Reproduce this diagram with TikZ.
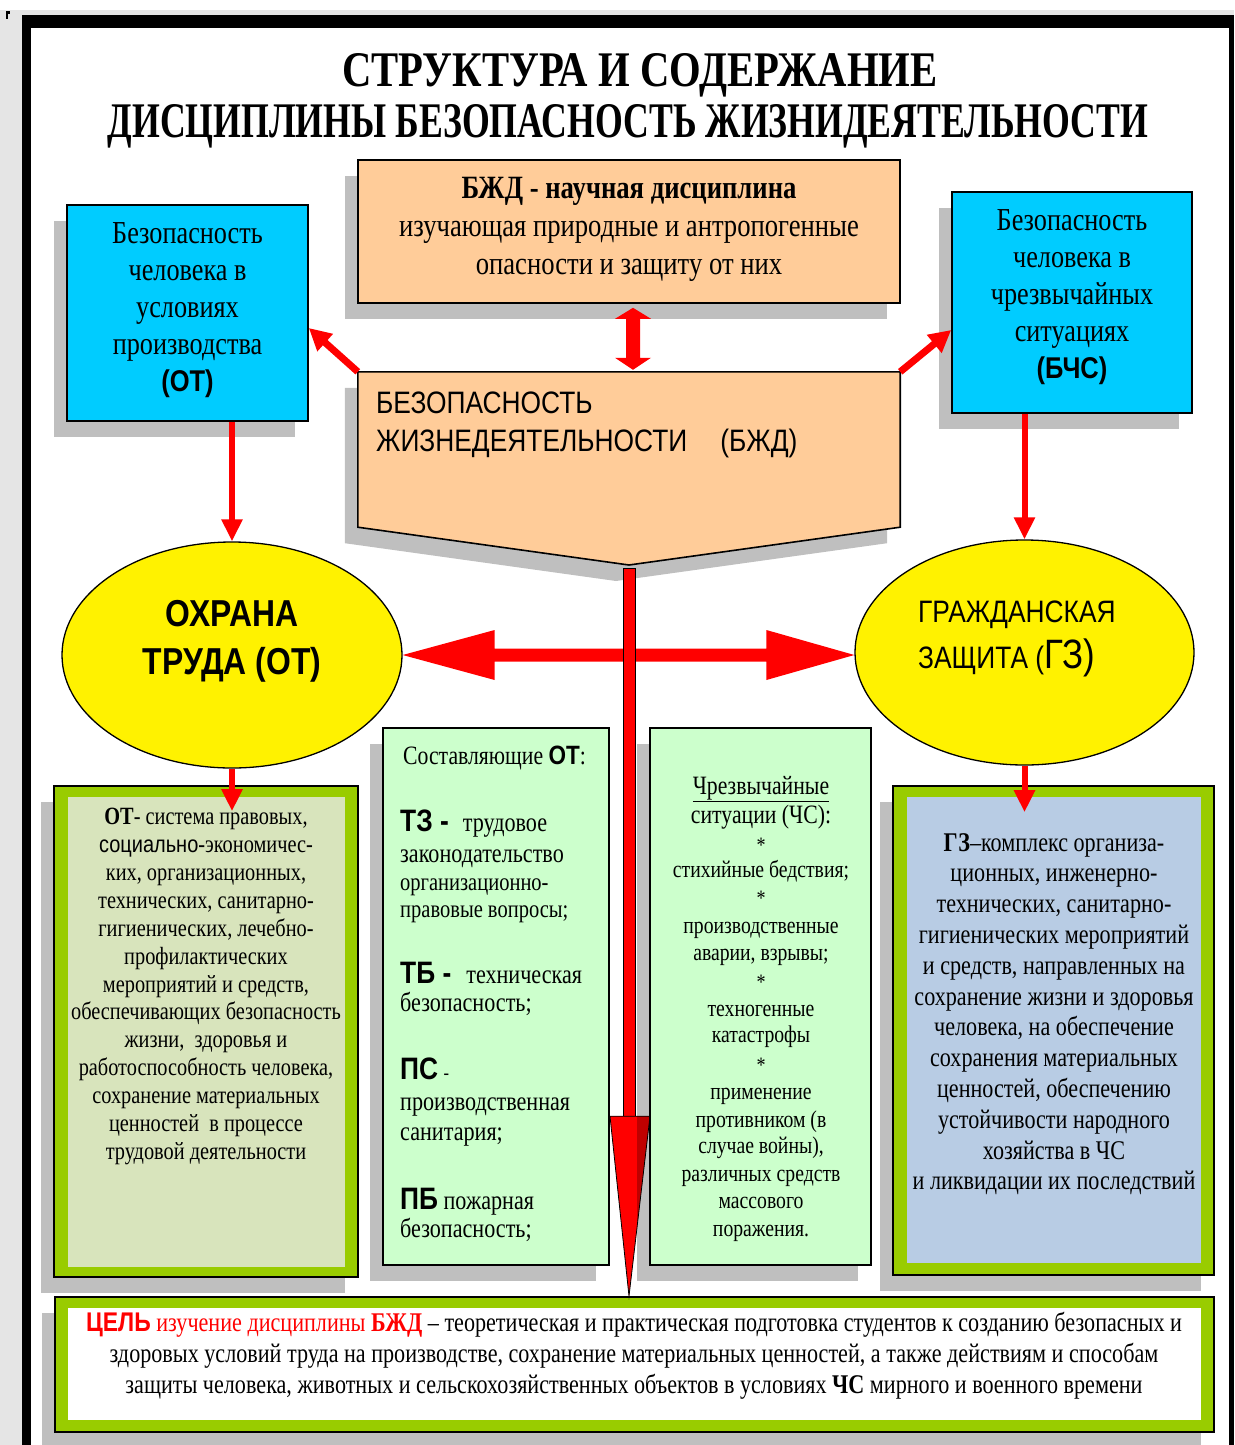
\documentclass[tikz,border=0pt]{standalone}
\usepackage{fontspec}
\usepackage{graphicx}
\setmainfont{Liberation Serif}[FakeStretch=0.82]
\newfontfamily\ar{Liberation Sans}[FakeStretch=0.85]
\usetikzlibrary{arrows.meta,shadows,calc,shapes.geometric}
\definecolor{peach}{HTML}{FFCC99}
\definecolor{cyanb}{HTML}{00CCFF}
\definecolor{lgreen}{HTML}{CCFFCC}
\definecolor{colOlive}{HTML}{99CC00}
\definecolor{olivel}{HTML}{D8E4BC}
\definecolor{blueg}{HTML}{B8CCE4}
\newcommand\setfs[2]{\fontsize{#1}{#2}\selectfont}
\tikzset{
  shad/.style={drop shadow={shadow xshift=-13pt,shadow yshift=-16pt,fill=black,opacity=0.25}},
  box/.style={draw=black,line width=1.6pt,inner sep=0pt,shad},
  inbox/.style={inner sep=0pt},
  txt/.style={inner sep=0pt,align=center},
  ln/.style={inner sep=0pt,anchor=base},
  lnw/.style={inner sep=0pt,anchor=base west},
  rar/.style={draw=red,line width=7pt,-{Triangle[length=22pt,width=22pt]}},
  rav/.style={draw=red,line width=6pt,-{Triangle[length=22pt,width=20pt]}},
  oval/.style={ellipse,draw=black,line width=1.3pt,fill=yellow,inner sep=0pt},
}
\begin{document}
\begin{tikzpicture}[x=1pt,y=-1pt]
\useasboundingbox (0,0) rectangle (1234,1445);
% frame
\fill[black!10] (0,10) rectangle (1234,1445);
\fill[black] (22,15) rectangle (1234,1445);
\fill[white] (31,28) rectangle (1229,1445);
\fill[black] (6,11) rectangle (10,14);
\fill[black] (6,11) rectangle (7.5,19);
% title
\node[ln] (t1) at (640,86) {\resizebox{595pt}{33pt}{\bfseries СТРУКТУРА И СОДЕРЖАНИЕ}};
\node[ln] (t2) at (628,137) {\resizebox{1040pt}{33pt}{\bfseries ДИСЦИПЛИНЫ БЕЗОПАСНОСТЬ ЖИЗНИДЕЯТЕЛЬНОСТИ}};
% top box
\node[box,fill=peach,minimum width=542pt,minimum height=143pt] (top) at (629,231.5) {};
\node[txt,font=\setfs{32.5}{38}] (topt) at (629,229) {{\bfseries БЖД - научная дисциплина}\\изучающая природные и антропогенные\\опасности и защиту от них};
% blue boxes
\node[box,fill=cyanb,minimum width=241pt,minimum height=216pt] (otb) at (187.5,313) {};
\node[txt,font=\setfs{32}{37}] (otbt) at (187.5,310) {Безопасность\\человека в\\условиях\\производства\\{\ar\bfseries\setfs{30}{37}(ОТ)}};
\node[box,fill=cyanb,minimum width=240pt,minimum height=221pt] (rb) at (1072,302.5) {};
\node[txt,font=\setfs{32}{37}] (rbt) at (1072,297) {Безопасность\\человека в\\чрезвычайных\\ситуациях\\{\ar\bfseries\setfs{30}{37}(БЧС)}};
% pentagon
\node[inner sep=0pt,minimum width=542pt,minimum height=155pt] (bzd) at (629,449.5) {};
\coordinate (apex) at (629,565);
\filldraw[fill=peach,draw=black,line width=1.6pt,shad] (bzd.north west) -- (bzd.north east) -- (bzd.south east) -- (apex) -- (bzd.south west) -- cycle;
\node[lnw,font=\ar\setfs{31}{38}] (bzdt1) at (376,413) {БЕЗОПАСНОСТЬ};
\node[lnw,font=\ar\setfs{31}{38}] (bzdt2) at (376,451) {ЖИЗНЕДЕЯТЕЛЬНОСТИ\hspace{33pt}(БЖД)};
% double vertical arrow
\path ([xshift=4pt,yshift=-4pt]top.south) coordinate (dA) ([xshift=4pt,yshift=2pt]bzd.north) coordinate (dB);
\fill[red] (dA) -- ++(18,11) -- ++(-11,0) -- ($(dB)+(7,-12)$) -- ++(11,0) -- (dB) -- ++(-18,-12) -- ++(11,0) -- ($(dA)+(-7,11)$) -- ++(-11,0) -- cycle;
% diagonal arrows
\draw[rar] (bzd.north west) -- ([yshift=-15pt]otb.east);
\draw[rar] (bzd.north east) -- ([yshift=-27.5pt]rb.west);
% ellipses
\node[oval,minimum width=340pt,minimum height=226pt] (ohr) at (232,655) {};
\node[txt,font=\ar\bfseries\setfs{37.5}{48}] (ohrt) at (232,641) {ОХРАНА\\ТРУДА (ОТ)};
\node[oval,minimum width=339pt,minimum height=225pt] (gzr) at (1024.5,652.5) {};
\node[lnw,font=\ar\setfs{31}{38}] (gzt1) at (918,622) {ГРАЖДАНСКАЯ};
\node[lnw,font=\ar\setfs{31}{38}] (gzt2) at (918,668) {ЗАЩИТА ({\setfs{41}{48}ГЗ)}};
% vertical arrows blue -> ellipses
\draw[rav] (ohr.north |- otb.south) -- (ohr.north);
\draw[rav] (gzr.north |- rb.south) -- (gzr.north);
% horizontal double arrow
\path (ohr.east) coordinate (hL) (ohr.east -| gzr.west) coordinate (hR);
\fill[red] (hL) -- ++(92,-25) -- ++(0,18.5) -- ($(hR)+(-88,-6.5)$) -- ++(0,-18.5) -- (hR) -- ++(-88,25) -- ++(0,-18.5) -- ($(hL)+(92,6.5)$) -- ++(0,18.5) -- cycle;
% bottom box
\node[box,fill=colOlive,minimum width=1159pt,minimum height=135pt] (cel) at (634.5,1364.5) {};
\node[inbox,fill=white,minimum width=1133pt,minimum height=112pt] (celi) at (634.5,1364) {};
\node[txt,anchor=north,font=\setfs{27}{31}] (celt) at (634,1312) {{\ar\bfseries\color{red}ЦЕЛЬ} {\color{red}изучение дисциплины {\bfseries БЖД}} – теоретическая и практическая подготовка студентов к созданию безопасных и\\здоровых условий труда на производстве, сохранение материальных ценностей, а также действиям и способам\\защиты человека, животных и сельскохозяйственных объектов в условиях {\bfseries ЧС} мирного и военного времени};
% vertical red bar with head
\path (apex |- cel.north) coordinate (vtip);
\filldraw[fill=red,draw=black,line width=0.8pt] ($(apex)+(-6,3)$) rectangle ($(vtip)+(6,-180)$);
\filldraw[fill=red,draw=black,line width=0.8pt] ($(vtip)+(-19,-180)$) -- ($(vtip)+(21,-180)$) -- (vtip) -- cycle;
% left green box
\node[box,fill=colOlive,minimum width=304pt,minimum height=491pt] (otg) at (206,1031.5) {};
\node[inbox,fill=olivel,minimum width=277pt,minimum height=470pt] (otgi) at (206.5,1032) {};
\node[txt,anchor=north,font=\setfs{24.8}{27.9}] (otgt) at (206,808) {{\bfseries ОТ}- система правовых,\\{\ar\setfs{23.5}{27.9}социально}-экономичес-\\ких, организационных,\\технических, санитарно-\\гигиенических, лечебно-\\профилактических\\мероприятий и средств,\\обеспечивающих безопасность\\жизни,\ \ здоровья и\\работоспособность человека,\\сохранение материальных\\ценностей\ \ в процессе\\трудовой деятельности};
% right green box
\node[box,fill=colOlive,minimum width=321pt,minimum height=489pt] (gzg) at (1053.5,1030.5) {};
\node[inbox,fill=blueg,minimum width=294pt,minimum height=466pt] (gzgi) at (1054,1030) {};
\node[txt,anchor=north,font=\setfs{27}{30.8}] (gzgt) at (1054,833) {{\bfseries ГЗ}–комплекс организа-\\ционных, инженерно-\\технических, санитарно-\\гигиенических мероприятий\\и средств, направленных на\\сохранение жизни и здоровья\\человека, на обеспечение\\сохранения материальных\\ценностей, обеспечению\\устойчивости народного\\хозяйства в ЧС\\и ликвидации их последствий};
% middle boxes
\node[box,fill=lgreen,minimum width=226pt,minimum height=537pt] (cmp) at (496,996.5) {};
\node[box,fill=lgreen,minimum width=221pt,minimum height=537pt] (chs) at (760.5,996.5) {};
% components text
\node[lnw,font=\setfs{26.5}{30}] (c0) at (403,764) {Составляющие {\ar\bfseries ОТ}:};
\node[lnw,font=\setfs{27}{30}] (c1) at (400,831) {{\ar\bfseries\setfs{31}{30}ТЗ -}\hspace{14pt}трудовое};
\node[lnw,font=\setfs{27}{30}] (c2) at (400,862) {законодательство};
\node[lnw,font=\setfs{25}{30}] (c3) at (400,890) {организационно-};
\node[lnw,font=\setfs{25}{30}] (c4) at (400,917) {правовые вопросы;};
\node[lnw,font=\setfs{27}{30}] (c5) at (400,983) {{\ar\bfseries\setfs{31}{30}ТБ -}\hspace{15pt}техническая};
\node[lnw,font=\setfs{27}{30}] (c6) at (400,1011) {безопасность;};
\node[lnw,font=\setfs{27}{30}] (c7) at (400,1079) {{\ar\bfseries\setfs{31}{30}ПС} {\setfs{20}{30}-}};
\node[lnw,font=\setfs{27}{30}] (c8) at (400,1110) {производственная};
\node[lnw,font=\setfs{27}{30}] (c9) at (400,1140) {санитария;};
\node[lnw,font=\setfs{27}{30}] (c10) at (400,1209) {{\ar\bfseries\setfs{31}{30}ПБ} пожарная};
\node[lnw,font=\setfs{27}{30}] (c11) at (400,1237) {безопасность;};
% emergency text
\node[ln,font=\setfs{26.5}{30}] (e0) at (761,794) {\underline{Чрезвычайные}};
\node[ln,font=\setfs{26.5}{30}] (e1) at (761,823) {ситуации (ЧС):};
\node[ln,font=\setfs{22}{30}] (e2) at (761,852) {*};
\node[ln,font=\setfs{24}{30}] (e3) at (761,877) {стихийные бедствия;};
\node[ln,font=\setfs{22}{30}] (e4) at (761,905) {*};
\node[ln,font=\setfs{24}{30}] (e5) at (761,933) {производственные};
\node[ln,font=\setfs{24}{30}] (e6) at (761,960) {аварии, взрывы;};
\node[ln,font=\setfs{22}{30}] (e7) at (761,989) {*};
\node[ln,font=\setfs{24}{30}] (e8) at (761,1016) {техногенные};
\node[ln,font=\setfs{24}{30}] (e9) at (761,1042) {катастрофы};
\node[ln,font=\setfs{22}{30}] (e10) at (761,1072) {*};
\node[ln,font=\setfs{24}{30}] (e11) at (761,1099) {применение};
\node[ln,font=\setfs{24}{30}] (e12) at (761,1127) {противником (в};
\node[ln,font=\setfs{24}{30}] (e13) at (761,1153) {случае войны),};
\node[ln,font=\setfs{24}{30}] (e14) at (761,1181) {различных средств};
\node[ln,font=\setfs{24}{30}] (e15) at (761,1208) {массового};
\node[ln,font=\setfs{24}{30}] (e16) at (761,1236) {поражения.};
% arrows ellipses -> green boxes
\path ([yshift=-26pt]otg.north) coordinate (otgA) ([yshift=-27pt]gzg.north) coordinate (gzgA);
\draw[rav] (ohr.south) -- (otgA -| ohr.south);
\draw[rav] (gzr.south) -- (gzgA -| gzr.south);
\end{tikzpicture}
\end{document}
